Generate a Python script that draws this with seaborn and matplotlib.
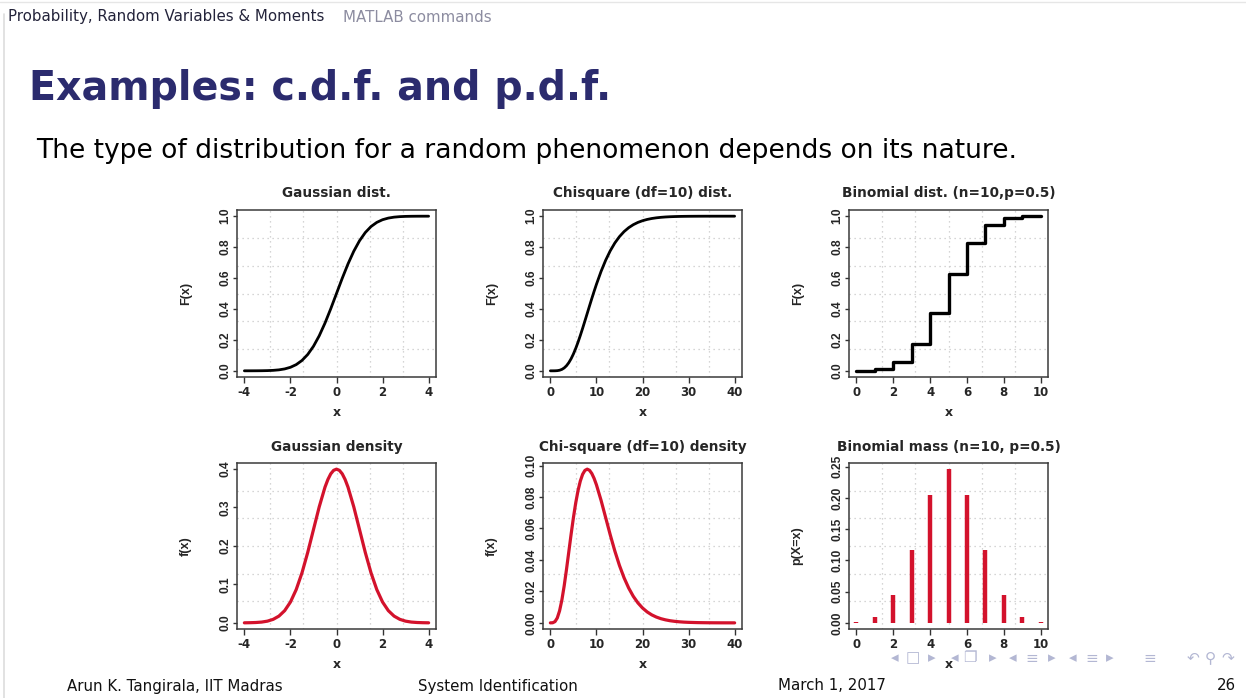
import numpy as np
import matplotlib
matplotlib.use("Agg")
import matplotlib.pyplot as plt
from matplotlib import font_manager
from matplotlib.lines import Line2D
import seaborn as sns

# --- values ---
gauss_x = [-4.0, -3.75, -3.5, -3.25, -3.0, -2.75, -2.5, -2.25, -2.0, -1.75, -1.5, -1.25,
           -1.0, -0.75, -0.5, -0.25, 0.0, 0.25, 0.5, 0.75, 1.0, 1.25, 1.5, 1.75,
           2.0, 2.25, 2.5, 2.75, 3.0, 3.25, 3.5, 3.75, 4.0]
gauss_cdf = [0.00003, 0.00009, 0.00023, 0.00058, 0.00135, 0.00298, 0.00621, 0.01222,
             0.02275, 0.04006, 0.06681, 0.10565, 0.15866, 0.22663, 0.30854, 0.40129,
             0.5, 0.59871, 0.69146, 0.77337, 0.84134, 0.89435, 0.93319, 0.95994,
             0.97725, 0.98778, 0.99379, 0.99702, 0.99865, 0.99942, 0.99977, 0.99991, 0.99997]
dens_x = [-4.0, -3.75, -3.5, -3.25, -3.0, -2.75, -2.5, -2.25, -2.0, -1.75, -1.5, -1.25,
          -1.0, -0.75, -0.5, -0.375, -0.25, -0.125, 0.0, 0.125, 0.25, 0.375, 0.5, 0.75,
          1.0, 1.25, 1.5, 1.75, 2.0, 2.25, 2.5, 2.75, 3.0, 3.25, 3.5, 3.75, 4.0]
gauss_pdf = [0.0001, 0.0004, 0.0009, 0.0020, 0.0044, 0.0091, 0.0175, 0.0317,
             0.0540, 0.0863, 0.1295, 0.1826, 0.2420, 0.3011, 0.3521, 0.3718, 0.3867,
             0.3958, 0.3989, 0.3958, 0.3867, 0.3718, 0.3521, 0.3011, 0.2420, 0.1826,
             0.1295, 0.0863, 0.0540, 0.0317, 0.0175, 0.0091, 0.0044, 0.0020, 0.0009,
             0.0004, 0.0001]

chi_x = [0, 0.5, 1, 1.5, 2, 2.5, 3, 3.5, 4, 4.5, 5, 5.5, 6, 6.5, 7, 7.5, 8, 8.5, 9, 9.5,
         10, 11, 12, 13, 14, 15, 16, 17, 18, 19, 20, 21, 22, 23, 24, 25, 26, 27, 28, 29,
         30, 32, 34, 36, 38, 40]
chi_cdf = [0.0, 0.00001, 0.00017, 0.00106, 0.00366, 0.00914, 0.0186, 0.0329, 0.0527,
           0.0780, 0.1088, 0.1446, 0.1847, 0.2284, 0.2746, 0.3225, 0.3712, 0.4199,
           0.4679, 0.5146, 0.5595, 0.6425, 0.7149, 0.7763, 0.8270, 0.8679, 0.9004,
           0.9256, 0.9450, 0.9597, 0.9707, 0.9789, 0.9850, 0.9894, 0.9926, 0.9949,
           0.9965, 0.9976, 0.9984, 0.9989, 0.9993, 0.9997, 0.9999, 0.99995, 0.99998, 1.0]
chi_pdf = [0.0, 0.00006, 0.00079, 0.00311, 0.00766, 0.01457, 0.02353, 0.03396, 0.04511,
           0.05628, 0.06680, 0.07617, 0.08402, 0.09012, 0.09441, 0.09689, 0.09769,
           0.09695, 0.09490, 0.09176, 0.08773, 0.07791, 0.06693, 0.05591, 0.04561,
           0.03646, 0.02863, 0.02213, 0.01687, 0.01270, 0.00946, 0.00697, 0.00509,
           0.00369, 0.00265, 0.00190, 0.00134, 0.00095, 0.00067, 0.00046, 0.00032,
           0.00015, 0.00007, 0.00003, 0.00001, 0.0]

binom_k = [0, 1, 2, 3, 4, 5, 6, 7, 8, 9, 10]
binom_cdf = [0.00098, 0.01074, 0.05469, 0.17188, 0.37695, 0.62305, 0.82813, 0.94531,
             0.98926, 0.99902, 1.0]
binom_pmf = [0.00098, 0.00977, 0.04395, 0.11719, 0.20508, 0.24609, 0.20508, 0.11719,
             0.04395, 0.00977, 0.00098]

titles = ["Gaussian dist.", "Chisquare (df=10) dist.", "Binomial dist. (n=10,p=0.5)",
          "Gaussian density", "Chi-square (df=10) density", "Binomial mass (n=10, p=0.5)"]
ylabels = ["F(x)", "F(x)", "F(x)", "f(x)", "f(x)", "p(X=x)"]
xticks = [[-4, -2, 0, 2, 4], [0, 10, 20, 30, 40], [0, 2, 4, 6, 8, 10]]
yticks = [[0.0, 0.2, 0.4, 0.6, 0.8, 1.0]] * 3 + [[0.0, 0.1, 0.2, 0.3, 0.4],
          [0.00, 0.02, 0.04, 0.06, 0.08, 0.10], [0.00, 0.05, 0.10, 0.15, 0.20, 0.25]]
yfmt = ["{:.1f}"] * 4 + ["{:.2f}"] * 2

RED = "#d3122c"
NAVY = "#2b2b6e"

sns.set_theme(style="white")
names = {f.name for f in font_manager.fontManager.ttflist}
narrow_font = "Liberation Sans" if "Liberation Sans" in names else "DejaVu Sans"
wide_font = "DejaVu Sans"
plt.rcParams["font.family"] = ["DejaVu Sans"]

fig = plt.figure(figsize=(12.46, 6.98), dpi=100)
W, H = 1246, 698

lefts = [237, 543, 849]
rows = [(210, 377), (463, 629)]
axes = []
for r, (top, bot) in enumerate(rows):
    for c, lx in enumerate(lefts):
        ax = fig.add_axes([lx / W, (H - bot) / H, 199 / W, (bot - top) / H])
        axes.append(ax)

# cdf row
sns.lineplot(x=gauss_x, y=gauss_cdf, ax=axes[0], color="black", lw=2.0)
sns.lineplot(x=chi_x, y=chi_cdf, ax=axes[1], color="black", lw=2.0)
sns.lineplot(x=binom_k, y=binom_cdf, ax=axes[2], color="black", lw=2.4,
             drawstyle="steps-post")
# density row
sns.lineplot(x=dens_x, y=gauss_pdf, ax=axes[3], color=RED, lw=2.3)
sns.lineplot(x=chi_x, y=chi_pdf, ax=axes[4], color=RED, lw=2.3)
axes[5].vlines(binom_k, 0, binom_pmf, color=RED, lw=3.2)

xranges = [(-4, 4), (0, 40), (0, 10)]
yranges = [(0, 1), (0, 1), (0, 1), (0, max(gauss_pdf)), (0, max(chi_pdf)), (0, max(binom_pmf))]
for i, ax in enumerate(axes):
    x0, x1 = xranges[i % 3]
    y0, y1 = yranges[i]
    dx, dy = 0.04 * (x1 - x0), 0.04 * (y1 - y0)
    ax.set_xlim(x0 - dx, x1 + dx)
    ax.set_ylim(y0 - dy, y1 + dy)
    # R style grid: 6 equal divisions of the plotting region
    for g in np.linspace(x0 - dx, x1 + dx, 7)[1:-1]:
        ax.axvline(g, color="#c8c8c8", lw=0.9, ls=(0, (1, 3)), zorder=0)
    for g in np.linspace(y0 - dy, y1 + dy, 7)[1:-1]:
        ax.axhline(g, color="#c8c8c8", lw=0.9, ls=(0, (1, 3)), zorder=0)
    ax.set_xticks(xticks[i % 3])
    ax.set_xticklabels([str(t) for t in xticks[i % 3]], fontsize=8.5,
                       fontweight="bold", family=wide_font)
    ax.set_yticks(yticks[i])
    ax.set_yticklabels([yfmt[i].format(t) for t in yticks[i]], fontsize=8.6,
                       fontweight="bold", rotation=90, va="center", family=narrow_font)
    ax.tick_params(axis="x", direction="out", length=4, width=1.0, color="#333333",
                   pad=2.5, bottom=True)
    ax.tick_params(axis="y", direction="out", length=3, width=1.0, color="#333333",
                   pad=1, left=True)
    for s in ax.spines.values():
        s.set_visible(True)
        s.set_color("#3a3a3a")
        s.set_linewidth(1.1)
    ax.set_title(titles[i], fontsize=9.8, fontweight="bold", pad=9, family=wide_font)
    ax.set_xlabel("x", fontsize=9, fontweight="bold", labelpad=5, family=wide_font)
    ax.set_ylabel(ylabels[i], fontsize=9, fontweight="bold", labelpad=20, family=narrow_font)

# --- slide decoration ---
fig.text(8 / W, 1 - 17 / H, "Probability, Random Variables & Moments",
         fontsize=10.8, color="#23233a", va="center", ha="left")
fig.text(343 / W, 1 - 17 / H, "MATLAB commands",
         fontsize=10.8, color="#8c8ca0", va="center", ha="left")
fig.text(29 / W, 1 - 89 / H, "Examples: c.d.f. and p.d.f.",
         fontsize=28.5, fontweight="bold", color=NAVY, va="center", ha="left")
fig.text(36 / W, 1 - 151 / H,
         "The type of distribution for a random phenomenon depends on its nature.",
         fontsize=19.1, color="black", va="center", ha="left")

for xp, label in [(67, "Arun K. Tangirala, IIT Madras"), (418, "System Identification"),
                  (778, "March 1, 2017")]:
    fig.text(xp / W, 1 - 686 / H, label, fontsize=10.8,
             color="#111111", va="center", ha="left")
fig.text(1236 / W, 1 - 686 / H, "26", fontsize=10.8,
         color="#111111", va="center", ha="right")

nav = [(895, "◂"), (913, "□"), (932, "▸"), (955, "◂"), (970, "❐"), (993, "▸"),
       (1013, "◂"), (1032, "≡"), (1052, "▸"), (1073, "◂"), (1092, "≡"), (1110, "▸"),
       (1150, "≡"), (1193, "↶"), (1210, "⚲"), (1228, "↷")]
for xp, g in nav:
    fig.text(xp / W, 1 - 658 / H, g, fontsize=11,
             color="#b3b7d3", va="center", ha="center")

fig.add_artist(Line2D([4 / W, 4 / W], [0, 1 - 14 / H], color="#dddddd", lw=1.2))
fig.add_artist(Line2D([0, 1], [1 - 2 / H, 1 - 2 / H], color="#e6e6e6", lw=1.0))

fig.savefig("out.png", dpi=100)
